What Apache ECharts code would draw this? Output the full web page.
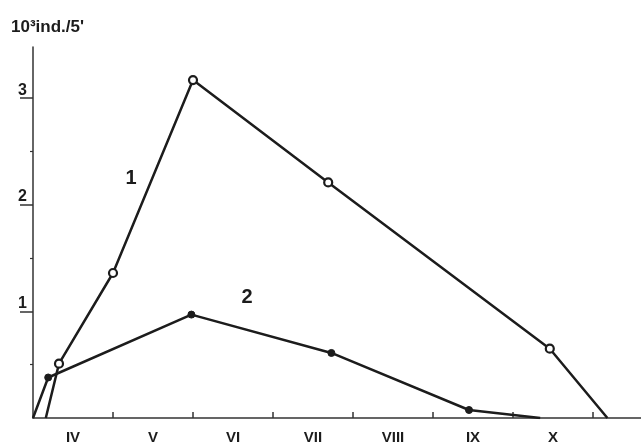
<!DOCTYPE html>
<html><head><meta charset="utf-8">
<script src="https://cdn.jsdelivr.net/npm/echarts@6/dist/echarts.min.js"></script>
<style>html,body{margin:0;padding:0;background:#fff}#c{width:641px;height:446px}</style>
</head><body><div id="c"></div>
<script>
// x in months since start of April (IV = 0..1, V = 1..2, ...)
const monthLabels = ['IV','V','VI','VII','VIII','IX','X'];
const monthCenters = [0.5,1.5,2.5,3.5,4.5,5.5,6.5];
const monthTicks = [1,2,3,4,5,6,7];
const yTicks = [1,2,3];
const yMinorTicks = [0.5,1.5,2.5];
const series1X = [0.16,0.325,1.0,2.0,3.69,6.46,7.18];
const series1Y = [0,0.51,1.36,3.17,2.21,0.65,0];
const series1Sym = ['none','circle','circle','circle','circle','circle','none'];
const series2X = [0,0.19,1.98,3.73,5.45,6.34];
const series2Y = [0,0.38,0.97,0.61,0.075,0];
const series2Sym = ['none','circle','circle','circle','circle','none'];
const seriesNames = ['1','2'];
const labelPos = [[1.225,2.25],[2.675,1.13]];

const ink = '#1c1c1c';
const font = '"Liberation Sans Narrow","Liberation Sans",Arial,sans-serif';
function pts(xs, ys, syms, open){
  return xs.map((x,i)=>({value:[x,ys[i]], symbol: syms[i],
    itemStyle: open ? {color:'#fff', borderColor:ink, borderWidth:2.2} : {color:ink, borderColor:ink, borderWidth:1}}));
}
function mp(i, size){
  return {symbol:'circle', symbolSize:1, itemStyle:{color:'rgba(0,0,0,0)'},
    label:{show:true, position:'inside', formatter:seriesNames[i], color:ink, fontFamily:font, fontSize:size, fontWeight:'bold'},
    data:[{coord:labelPos[i]}]};
}
const chart = echarts.init(document.getElementById('c'));
chart.setOption({
  animation:false,
  backgroundColor:'#fff',
  title:{text:"10³ind./5'", left:6, top:14, textStyle:{fontFamily:font, fontSize:17, fontWeight:'bold', color:ink}},
  grid:{left:33, right:0, top:47, bottom:28},
  xAxis:{type:'value', min:0, max:7.6,
    axisLine:{lineStyle:{color:'#333', width:1.5}},
    splitLine:{show:false},
    axisTick:{show:true, inside:true, length:6, customValues:monthTicks, lineStyle:{color:'#333', width:1.5}},
    axisLabel:{customValues:monthCenters, margin:12, color:ink, fontFamily:font, fontSize:15, fontWeight:'bold',
      formatter:(v)=>{const i=monthCenters.indexOf(Math.round(v*10)/10);return i>=0?monthLabels[i]:'';}}
  },
  yAxis:[{type:'value', min:0, max:3.48, position:'left',
    axisLine:{show:true, lineStyle:{color:'#333', width:1.5}},
    splitLine:{show:false},
    axisTick:{show:true, length:13, customValues:yTicks, lineStyle:{color:'#333', width:1.5}},
    axisLabel:{customValues:yTicks, margin:6, verticalAlign:'bottom', color:ink, fontFamily:font, fontSize:16, fontWeight:'bold'}
  },{type:'value', min:0, max:3.48, position:'left',
    axisLine:{show:false}, splitLine:{show:false},
    axisTick:{show:true, length:3, customValues:yMinorTicks, lineStyle:{color:'#333', width:1.2}},
    axisLabel:{show:false}
  }],
  series:[
    {name:seriesNames[0], type:'line', data:pts(series1X,series1Y,series1Sym,true), symbolSize:8,
      lineStyle:{color:ink, width:2.5}, itemStyle:{color:ink}, markPoint:mp(0,20)},
    {name:seriesNames[1], type:'line', data:pts(series2X,series2Y,series2Sym,false), symbolSize:7,
      lineStyle:{color:ink, width:2.5}, itemStyle:{color:ink}, markPoint:mp(1,20)}
  ]
});
</script></body></html>
